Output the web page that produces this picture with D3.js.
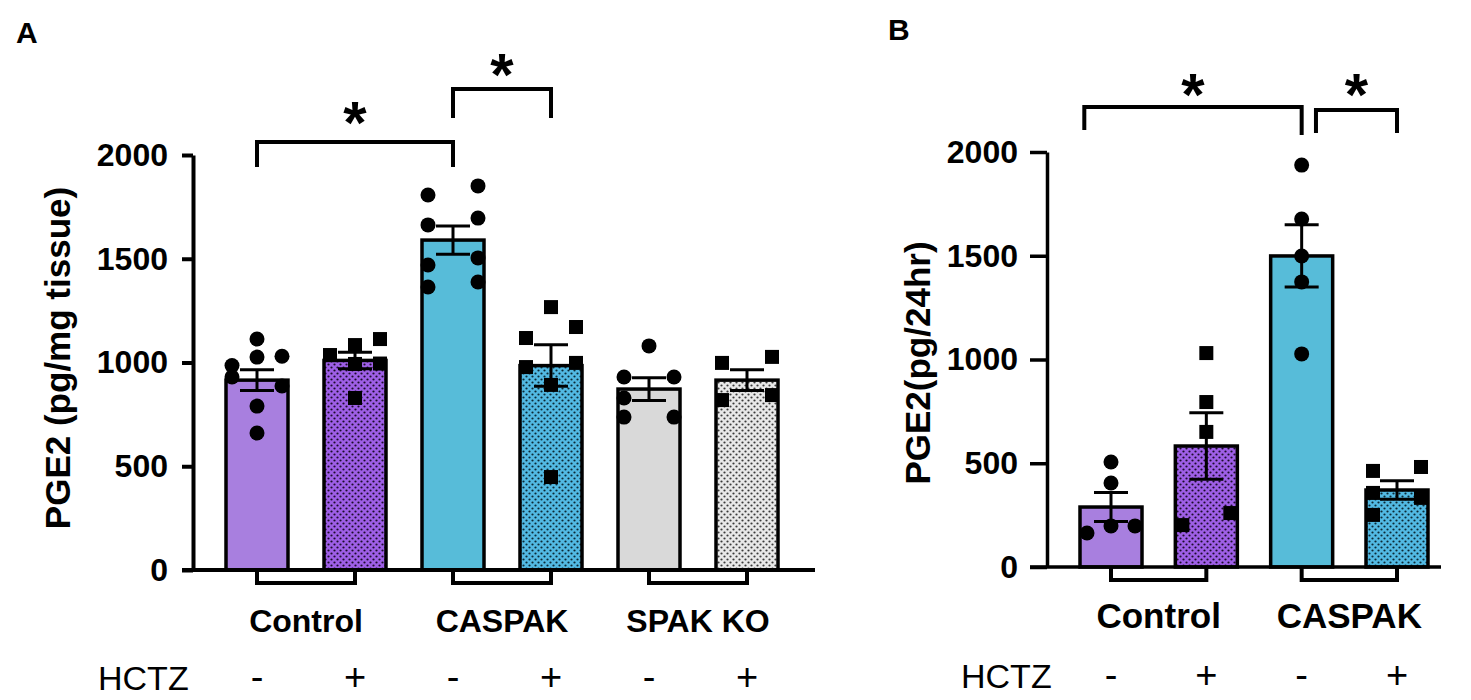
<!DOCTYPE html>
<html>
<head>
<meta charset="utf-8">
<script src="https://cdn.jsdelivr.net/npm/d3@7"></script>
<style>
  body { margin: 0; background: #fff; }
  text { font-family: "Liberation Sans", Arial, sans-serif; }
</style>
</head>
<body>
<div id="chart"></div>
<script>
// ---- data ----
var ticks = [0, 500, 1000, 1500, 2000];

// Panel A: PGE2 per mg tissue
var groupsA = ["Control", "CASPAK", "SPAK KO"];
var hctzA = ["-", "+", "-", "+", "-", "+"];
var meansA = [915, 1010, 1590, 985, 872, 915];
var semA = [50, 40, 68, 100, 55, 50];
var pointsA = [
  [1113, 1030, 1026, 985, 930, 887, 790, 660],
  [1113, 1084, 1036, 995, 993, 829],
  [1851, 1807, 1696, 1663, 1504, 1470, 1388, 1364],
  [1267, 1171, 1118, 998, 978, 892, 448],
  [1080, 930, 930, 829, 737, 737],
  [1027, 998, 843, 819]
];
// column each point sits in (-1 left, 0 middle, 1 right)
var colsA = [
  [0, 1, 0, -1, -1, 1, 0, 0],
  [1, 0, -1, 1, 0, 0],
  [1, -1, 1, -1, 1, -1, 1, -1],
  [0, 1, -1, 1, -1, 0, 0],
  [0, -1, 1, -1, -1, 1],
  [1, -1, 1, -1]
];
// significance brackets: from / to in bar index units, heights in data units
var sigA = [
  { from: 0, to: 2, top: 2063, legL: 1942, legR: 1942, star: 2217 },
  { from: 2, to: 3, top: 2318, legL: 2178, legR: 2178, star: 2448 }
];

// Panel B: PGE2 per 24 hr
var groupsB = ["Control", "CASPAK"];
var hctzB = ["-", "+", "-", "+"];
var meansB = [289, 583, 1499, 371];
var semB = [70, 160, 150, 45];
var pointsB = [
  [506, 405, 198, 198, 164],
  [1031, 795, 651, 260, 202],
  [1937, 1677, 1499, 1374, 1027],
  [482, 463, 357, 333, 251]
];
var colsB = [
  [0, 0, 0, 1, -1],
  [0, 0, 0, 1, -1],
  [0, 0, 0, 0, 0],
  [1, -1, -1, 1, -1]
];
var sigB = [
  { from: -0.28, to: 2, top: 2217, legL: 2106, legR: 2082, star: 2337 },
  { from: 2.15, to: 3, top: 2202, legL: 2092, legR: 2092, star: 2337 }
];

// ---- styles ----
var fillsA = ["url(#solidPurple)", "url(#dotPurple)", "url(#solidCyan)", "url(#dotCyan)", "url(#solidGray)", "url(#dotGray)"];
var fillsB = ["url(#solidPurple)", "url(#dotPurple)", "url(#solidCyan)", "url(#dotCyan)"];
var shapes = ["circle", "square"];

var w = 1471, h = 700;
var svg = d3.select("#chart").append("svg")
    .attr("width", w)
    .attr("height", h);

svg.append("rect").attr("width", w).attr("height", h).attr("fill", "#fff");

// fills: plain colours and dotted patterns
var defs = svg.append("defs");
function solid(id, color) {
  var p = defs.append("pattern").attr("id", id)
      .attr("patternUnits", "userSpaceOnUse").attr("width", 6).attr("height", 6);
  p.append("rect").attr("width", 6).attr("height", 6).attr("fill", color);
}
function dotted(id, base, dot) {
  var p = defs.append("pattern").attr("id", id)
      .attr("patternUnits", "userSpaceOnUse").attr("width", 6).attr("height", 6);
  p.append("rect").attr("width", 6).attr("height", 6).attr("fill", base);
  p.append("circle").attr("cx", 1.5).attr("cy", 1.5).attr("r", 1.1).attr("fill", dot);
  p.append("circle").attr("cx", 4.5).attr("cy", 4.5).attr("r", 1.1).attr("fill", dot);
}
solid("solidPurple", "#a87fdf");
dotted("dotPurple", "#9e5fe6", "#1c0c2c");
solid("solidCyan", "#57bcd9");
dotted("dotCyan", "#52b9e3", "#0c2a36");
solid("solidGray", "#d9d9d9");
dotted("dotGray", "#e8e8e8", "#3a3a3a");

function drawPanel(p) {
  var g = svg.append("g");

  var y = d3.scaleLinear().domain([0, 2000]).range([p.yBottom, p.yTop]);
  var x = d3.scaleLinear().domain([0, p.means.length - 1]).range([p.xFirst, p.xLast]);
  var bw = 62;

  // panel letter
  g.append("text")
      .attr("x", p.letterX).attr("y", p.letterY)
      .attr("font-size", 30).attr("font-weight", "bold")
      .text(p.letter);

  // bars
  g.selectAll(".bar").data(p.means).enter().append("rect")
      .attr("x", function (d, i) { return x(i) - bw / 2; })
      .attr("y", function (d) { return y(d); })
      .attr("width", bw)
      .attr("height", function (d) { return y(0) - y(d); })
      .attr("fill", function (d, i) { return p.fills[i]; })
      .attr("stroke", "#000")
      .attr("stroke-width", 3.5);

  // error bars (mean +/- SEM)
  var eb = g.selectAll(".err").data(p.means).enter().append("g");
  eb.append("line")
      .attr("x1", function (d, i) { return x(i); })
      .attr("x2", function (d, i) { return x(i); })
      .attr("y1", function (d, i) { return y(d - p.sem[i]); })
      .attr("y2", function (d, i) { return y(d + p.sem[i]); });
  eb.append("line")
      .attr("x1", function (d, i) { return x(i) - 17; })
      .attr("x2", function (d, i) { return x(i) + 17; })
      .attr("y1", function (d, i) { return y(d + p.sem[i]); })
      .attr("y2", function (d, i) { return y(d + p.sem[i]); });
  eb.append("line")
      .attr("x1", function (d, i) { return x(i) - 17; })
      .attr("x2", function (d, i) { return x(i) + 17; })
      .attr("y1", function (d, i) { return y(d - p.sem[i]); })
      .attr("y2", function (d, i) { return y(d - p.sem[i]); });
  eb.selectAll("line").attr("stroke", "#000").attr("stroke-width", 3);

  // individual animals
  p.points.forEach(function (vals, i) {
    var shape = shapes[i % 2];
    vals.forEach(function (v, k) {
      var cx = x(i) + p.cols[i][k] * p.spread;
      var cy = y(v);
      if (shape === "circle") {
        g.append("circle").attr("cx", cx).attr("cy", cy).attr("r", 7.5).attr("fill", "#000");
      } else {
        g.append("rect").attr("x", cx - 7).attr("y", cy - 7)
            .attr("width", 14).attr("height", 14).attr("fill", "#000");
      }
    });
  });

  // y axis
  var yAxis = d3.axisLeft(y)
      .tickValues(ticks)
      .tickFormat(d3.format("d"))
      .tickSize(p.tickLen)
      .tickSizeOuter(0)
      .tickPadding(p.tickPad);
  var ya = g.append("g")
      .attr("transform", "translate(" + p.axisX + ",0)")
      .call(yAxis);
  ya.select(".domain").attr("stroke-width", p.axisW).attr("stroke", "#000");
  ya.selectAll(".tick line").attr("stroke-width", p.axisW).attr("stroke", "#000");
  ya.selectAll(".tick text")
      .attr("font-size", 32).attr("font-weight", "bold").attr("fill", "#000")
      .attr("font-family", "Liberation Sans, Arial, sans-serif");

  // x axis line
  g.append("line")
      .attr("x1", p.axisX - p.tickLen).attr("x2", p.xEnd)
      .attr("y1", y(0)).attr("y2", y(0))
      .attr("stroke", "#000").attr("stroke-width", p.axisW);

  // y label
  g.append("text")
      .attr("transform", "translate(" + p.labelX + "," + p.labelY + ") rotate(-90)")
      .attr("text-anchor", "middle")
      .attr("font-size", 35).attr("font-weight", "bold")
      .text(p.ylabel);

  // group brackets under the axis and group names
  p.groups.forEach(function (name, k) {
    var a = x(2 * k), b = x(2 * k + 1);
    g.append("path")
        .attr("d", "M" + a + "," + y(0) + "V" + (y(0) + 13) + "H" + b + "V" + y(0))
        .attr("fill", "none").attr("stroke", "#000").attr("stroke-width", 4);
    g.append("text")
        .attr("x", (a + b) / 2).attr("y", p.groupY)
        .attr("text-anchor", "middle")
        .attr("font-size", p.groupFont).attr("font-weight", "bold")
        .text(name);
  });

  // HCTZ row
  g.append("text")
      .attr("x", p.hctzX).attr("y", p.hctzY)
      .attr("font-size", 34)
      .text("HCTZ");
  g.selectAll(".sign").data(p.hctz).enter().append("text")
      .attr("x", function (d, i) { return x(i); })
      .attr("y", p.hctzY)
      .attr("text-anchor", "middle")
      .attr("font-size", 38)
      .text(function (d) { return d; });

  // significance brackets with stars
  p.sig.forEach(function (s) {
    var a = x(s.from), b = x(s.to);
    g.append("path")
        .attr("d", "M" + a + "," + y(s.legL) + "V" + y(s.top) + "H" + b + "V" + y(s.legR))
        .attr("fill", "none").attr("stroke", "#000").attr("stroke-width", 4);
    g.append("text")
        .attr("x", (a + b) / 2)
        .attr("y", y(s.star) + 0.55 * 60)
        .attr("text-anchor", "middle")
        .attr("font-size", 60).attr("font-weight", "bold")
        .text("*");
  });
}

drawPanel({
  letter: "A", letterX: 16, letterY: 43,
  means: meansA, sem: semA, points: pointsA, cols: colsA, fills: fillsA,
  groups: groupsA, hctz: hctzA, sig: sigA,
  ylabel: "PGE2 (pg/mg tissue)", labelX: 70, labelY: 358,
  yBottom: 570, yTop: 155, xFirst: 257, xLast: 747, xEnd: 815,
  axisX: 193, tickLen: 11, tickPad: 14, axisW: 4, spread: 25,
  groupY: 632, groupFont: 32, hctzX: 98, hctzY: 690
});

drawPanel({
  letter: "B", letterX: 888, letterY: 40,
  means: meansB, sem: semB, points: pointsB, cols: colsB, fills: fillsB,
  groups: groupsB, hctz: hctzB, sig: sigB,
  ylabel: "PGE2(pg/24hr)", labelX: 930, labelY: 363,
  yBottom: 567, yTop: 152, xFirst: 1111, xLast: 1397, xEnd: 1441,
  axisX: 1047, tickLen: 17, tickPad: 12, axisW: 3.5, spread: 24,
  groupY: 628, groupFont: 35, hctzX: 961, hctzY: 688
});
</script>
</body>
</html>
